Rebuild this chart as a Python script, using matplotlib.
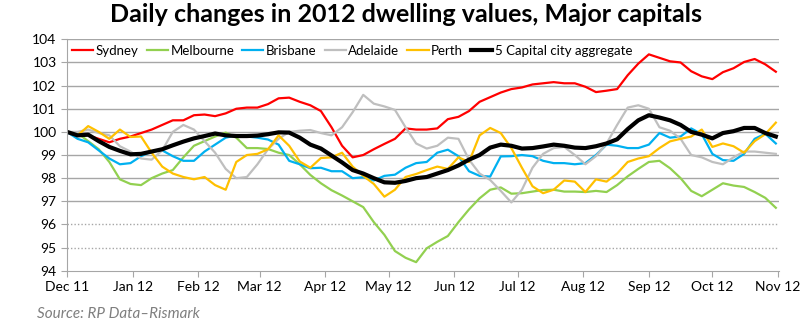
import numpy as np
import pandas as pd
import matplotlib
matplotlib.use("Agg")
from matplotlib import pyplot as plt
import matplotlib.dates as mdates

# Index values (Dec 1 2011 = 100), read every 5 days
dates = pd.date_range("2011-12-01", periods=68, freq="5D")

sydney = [100.0, 99.9, 99.85, 99.7, 99.55, 99.7, 99.8, 99.95, 100.1, 100.3,
          100.5, 100.5, 100.72, 100.75, 100.68, 100.8, 101.0, 101.05, 101.05, 101.2,
          101.45, 101.48, 101.3, 101.15, 100.9, 100.2, 99.4, 98.9, 99.0, 99.25,
          99.48, 99.7, 100.15, 100.1, 100.1, 100.15, 100.55, 100.65, 100.9, 101.3,
          101.5, 101.7, 101.85, 101.92, 102.05, 102.1, 102.15, 102.1, 102.1, 101.95,
          101.72, 101.78, 101.85, 102.45, 102.95, 103.35, 103.2, 103.05, 103.0, 102.62,
          102.4, 102.28, 102.58, 102.75, 103.02, 103.15, 102.92, 102.6]

melbourne = [100.0, 99.95, 99.6, 99.25, 98.7, 97.95, 97.75, 97.7, 98.0, 98.2,
             98.35, 98.9, 99.4, 99.6, 99.8, 99.97, 99.75, 99.3, 99.3, 99.26,
             99.1, 99.0, 98.6, 98.14, 97.78, 97.48, 97.25, 97.0, 96.75, 96.1,
             95.55, 94.85, 94.56, 94.37, 94.97, 95.25, 95.5, 96.1, 96.65, 97.13,
             97.5, 97.6, 97.33, 97.35, 97.42, 97.49, 97.5, 97.42, 97.42, 97.4,
             97.45, 97.4, 97.7, 98.08, 98.4, 98.7, 98.75, 98.43, 98.0, 97.45,
             97.22, 97.5, 97.78, 97.68, 97.62, 97.4, 97.15, 96.72]

brisbane = [100.0, 99.7, 99.55, 99.2, 98.85, 98.6, 98.65, 98.95, 99.15, 99.2,
            98.95, 98.75, 98.75, 99.15, 99.45, 99.75, 99.85, 99.8, 99.75, 99.67,
            99.45, 98.75, 98.6, 98.43, 98.45, 98.3, 98.3, 98.0, 98.04, 97.9,
            98.1, 98.15, 98.45, 98.65, 98.7, 99.1, 99.23, 98.95, 98.3, 98.1,
            98.07, 98.94, 98.95, 99.0, 98.95, 98.75, 98.65, 98.65, 98.6, 98.65,
            99.0, 99.45, 99.4, 99.3, 99.3, 99.45, 99.95, 99.75, 99.8, 100.15,
            99.9, 99.05, 98.78, 98.75, 99.05, 99.7, 99.92, 99.5]

adelaide = [100.0, 100.0, 100.1, 99.95, 99.85, 99.38, 99.15, 98.85, 98.8, 99.2,
            100.0, 100.3, 100.1, 99.6, 99.1, 98.4, 98.0, 98.05, 98.6, 99.25,
            99.7, 100.0, 100.05, 100.08, 99.95, 99.85, 100.2, 100.85, 101.6, 101.22,
            101.1, 100.95, 100.2, 99.5, 99.28, 99.4, 99.75, 99.7, 98.8, 98.2,
            97.92, 97.45, 96.95, 97.5, 98.45, 99.05, 99.3, 99.35, 99.0, 98.6,
            98.95, 99.5, 100.3, 101.05, 101.15, 101.0, 100.2, 100.05, 99.7, 99.0,
            98.9, 98.7, 98.6, 98.9, 99.15, 99.15, 99.1, 99.05]

perth = [100.0, 99.85, 100.25, 100.0, 99.7, 100.1, 99.78, 99.8, 99.1, 98.5,
         98.2, 98.05, 97.95, 98.05, 97.7, 97.5, 98.7, 99.0, 99.05, 99.25,
         99.85, 99.4, 98.72, 98.45, 98.87, 98.9, 99.1, 98.5, 98.1, 97.75,
         97.2, 97.5, 98.05, 98.18, 98.35, 98.5, 98.4, 98.9, 98.7, 99.85,
         100.17, 99.95, 99.3, 98.45, 97.65, 97.35, 97.5, 97.9, 97.85, 97.4,
         97.95, 97.85, 98.2, 98.7, 98.85, 98.95, 99.3, 99.59, 99.7, 99.8,
         100.1, 99.35, 99.5, 99.38, 99.1, 99.6, 99.9, 100.4]

aggregate = [100.0, 99.85, 99.88, 99.6, 99.35, 99.18, 99.03, 99.05, 99.15, 99.25,
             99.42, 99.58, 99.72, 99.82, 99.93, 99.85, 99.82, 99.82, 99.84, 99.9,
             99.98, 99.97, 99.75, 99.45, 99.28, 98.98, 98.68, 98.35, 98.2, 98.0,
             97.82, 97.8, 97.88, 98.0, 98.05, 98.2, 98.35, 98.55, 98.8, 99.0,
             99.32, 99.45, 99.4, 99.28, 99.3, 99.37, 99.45, 99.4, 99.32, 99.3,
             99.38, 99.5, 99.68, 100.12, 100.5, 100.72, 100.62, 100.5, 100.3, 100.0,
             99.88, 99.72, 99.95, 100.03, 100.17, 100.17, 99.95, 99.8]

names = ["Sydney", "Melbourne", "Brisbane", "Adelaide", "Perth", "5 Capital city aggregate"]
colors = ["#ff0000", "#92d050", "#00b0f0", "#bfbfbf", "#ffc000", "#000000"]
widths = [1.6, 1.6, 1.6, 1.6, 1.6, 3.0]

plt.rcParams["font.family"] = ["Lato", "DejaVu Sans"]

fig = plt.figure(figsize=(8, 3.25), dpi=100)
ax = fig.add_axes([0.08375, 0.167, 0.89, 0.712])

for series, name, c, w in zip([sydney, melbourne, brisbane, adelaide, perth, aggregate],
                              names, colors, widths):
    ax.plot(dates, series, color=c, lw=w, label=name)

ax.set_ylim(94, 104)
ax.set_yticks(range(94, 105))
ax.set_xlim(pd.Timestamp("2011-12-01"), pd.Timestamp("2012-11-01 12:00"))
ax.xaxis.set_major_locator(mdates.MonthLocator())
ax.xaxis.set_major_formatter(mdates.DateFormatter("%b %y"))

# gridlines: solid above 97, dotted below
for v in range(95, 105):
    ax.axhline(v, color="#a6a6a6", lw=1.0, ls="-" if v >= 97 else (0, (1, 1.5)), zorder=0)

for s in ["top", "right"]:
    ax.spines[s].set_visible(False)
ax.spines["left"].set_color("#a6a6a6")
ax.spines["bottom"].set_color("#a6a6a6")
ax.tick_params(axis="both", colors="#a6a6a6", length=4, labelcolor="black", labelsize=10)

ax.legend(loc="upper left", bbox_to_anchor=(0.0, 1.0), ncol=6, frameon=False,
          handlelength=1.6, handletextpad=0.2, columnspacing=0.6, fontsize=9.5,
          borderaxespad=0.1, borderpad=0.3)

fig.text(0.507, 0.955, "Daily changes in 2012 dwelling values, Major capitals",
         ha="center", va="center", fontsize=18, fontweight="bold")
fig.text(0.046, 0.035, "Source: RP Data\u2013Rismark", ha="left", va="center",
         fontsize=11, style="italic", color="#7f7f7f")

fig.savefig("out.png", dpi=100)
